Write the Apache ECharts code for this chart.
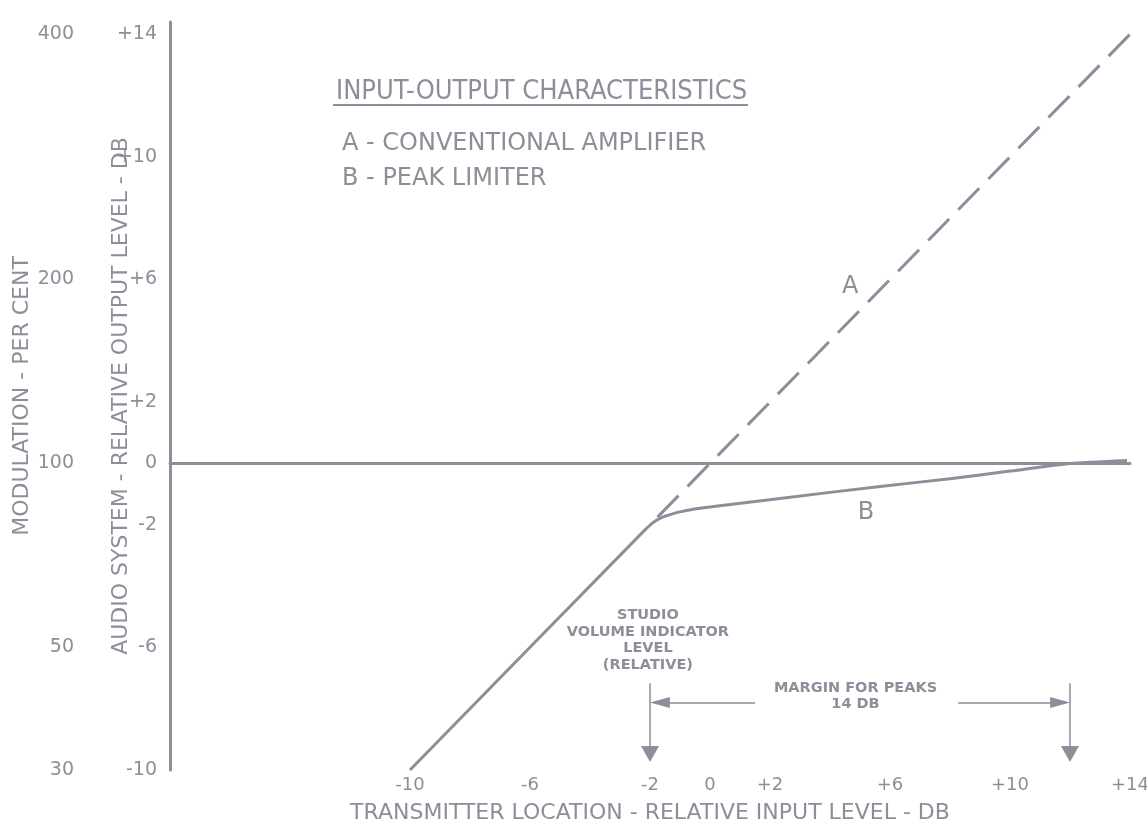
<!DOCTYPE html>
<html>
<head>
<meta charset="utf-8">
<script src="https://cdn.jsdelivr.net/npm/echarts@6/dist/echarts.min.js"></script>
<style>html,body{margin:0;padding:0;background:#fff;}#c{width:1147px;height:827px;}</style>
</head>
<body>
<div id="c"></div>
<script>
// ---- data ----
var xTickValues = [-10, -6, -2, 0, 2, 6, 10, 14];
var yTickValues = [-10, -6, -2, 0, 2, 6, 10, 14];
var modTickDb = [-10, -6, 0, 6, 14];
var modTickLabels = ['30', '50', '100', '200', '400'];
// A - conventional amplifier (dashed part beyond the knee)
var aX = [-1.75, 14];
var aY = [-1.75, 14];
// B - peak limiter (solid, shares the lower straight part)
var bX = [-10, -2.2, -1.9, -1.6, -1.3, -1.0, -0.6, 0, 0.67, 2.33, 5.67, 8, 10, 12, 13.9];
var bY = [-10, -2.2, -1.93, -1.76, -1.66, -1.58, -1.5, -1.42, -1.34, -1.14, -0.75, -0.5, -0.25, 0, 0.1];
// reference 0 dB line
var zeroX = [-18, 13];
var zeroY = [0, 0];
// annotation positions (data space)
var studioLevel = -2;
var peakLevel = 12;

var C = '#8c8e99';
var F = 'DejaVu Sans';

function pairs(xs, ys) { return xs.map(function (x, i) { return [x, ys[i]]; }); }
function fmtSigned(v) { return v > 0 ? '+' + v : (v < 0 ? '-' + (-v) : '0'); }

var chart = echarts.init(document.getElementById('c'));
chart.setOption({
  backgroundColor: '#fff',
  animation: false,
  title: [
    { text: 'INPUT-OUTPUT CHARACTERISTICS', left: 331, top: 73,
      textStyle: { color: C, fontFamily: 'DejaVu Sans Condensed', fontSize: 27, fontWeight: 'normal' } },
    { text: 'A - CONVENTIONAL AMPLIFIER\nB - PEAK LIMITER', left: 337, top: 121,
      textStyle: { color: C, fontFamily: F, fontSize: 24, fontWeight: 'normal', lineHeight: 35 } }
  ],
  graphic: [
    { type: 'line', shape: { x1: 333, y1: 105, x2: 748, y2: 105 }, style: { stroke: C, lineWidth: 2 } }
  ],
  grid: { left: 170, right: 17, top: 22, bottom: 57, containLabel: false, outerBoundsMode: 'none' },
  xAxis: {
    type: 'value', min: -18, max: 14, interval: 2,
    name: 'TRANSMITTER LOCATION - RELATIVE INPUT LEVEL - DB',
    nameLocation: 'middle', nameGap: 32, nameMoveOverlap: false,
    nameTextStyle: { color: C, fontFamily: F, fontSize: 22 },
    axisLine: { show: true, lineStyle: { color: C, width: 3 } },
    axisTick: { show: false }, splitLine: { show: false },
    axisLabel: { color: C, fontFamily: F, fontSize: 18, margin: 6,
      formatter: function (v) { return xTickValues.indexOf(v) >= 0 ? fmtSigned(v) : ''; } }
  },
  yAxis: [
    {
      type: 'value', min: -10, max: 14.4, interval: 2,
      name: 'AUDIO SYSTEM - RELATIVE OUTPUT LEVEL - DB',
      nameLocation: 'middle', nameGap: 38, nameRotate: 90, nameMoveOverlap: false,
      nameTextStyle: { color: C, fontFamily: F, fontSize: 22 },
      axisLine: { show: true, onZero: false, lineStyle: { color: C, width: 3 } },
      axisTick: { show: false }, splitLine: { show: false },
      axisLabel: { color: C, fontFamily: F, fontSize: 19, margin: 13,
        formatter: function (v) { return yTickValues.indexOf(v) >= 0 ? fmtSigned(v) : ''; } }
    },
    {
      type: 'value', min: -10, max: 14.4, interval: 2, position: 'left', offset: 83,
      name: 'MODULATION - PER CENT',
      nameLocation: 'middle', nameGap: 54, nameRotate: 90, nameMoveOverlap: false,
      nameTextStyle: { color: C, fontFamily: F, fontSize: 22 },
      axisLine: { show: false }, axisTick: { show: false }, splitLine: { show: false },
      axisLabel: { color: C, fontFamily: F, fontSize: 19, margin: 13,
        formatter: function (v) { var i = modTickDb.indexOf(v); return i >= 0 ? modTickLabels[i] : ''; } }
    }
  ],
  series: [
    {
      type: 'line', data: pairs(zeroX, zeroY), symbol: 'none', silent: true,
      lineStyle: { color: C, width: 2.5 }
    },
    {
      name: 'A', type: 'line', data: pairs(aX, aY), symbol: 'none',
      lineStyle: { color: C, width: 3, type: [30, 13] },
      markPoint: {
        symbol: 'circle', symbolSize: 0,
        label: { show: true, color: C, fontFamily: F, fontSize: 24, formatter: 'A' },
        data: [{ coord: [4.67, 5.75] }]
      }
    },
    {
      name: 'B', type: 'line', data: pairs(bX, bY), symbol: 'none', smooth: 0.2,
      lineStyle: { color: C, width: 3 },
      markPoint: {
        symbol: 'circle', symbolSize: 0,
        label: { show: true, color: C, fontFamily: F, fontSize: 24, formatter: 'B' },
        data: [{ coord: [5.2, -1.6] }]
      }
    },
    {
      type: 'line', data: [], symbol: 'none', silent: true,
      markPoint: {
        symbol: 'circle', symbolSize: 0,
        label: { show: true, color: C, fontFamily: F, fontSize: 14.5, fontWeight: 'bold', lineHeight: 16.5, align: 'center' },
        data: [
          { coord: [studioLevel - 0.07, -5.77], label: { formatter: 'STUDIO\nVOLUME INDICATOR\nLEVEL\n(RELATIVE)' } },
          { coord: [4.85, -7.6], label: { formatter: 'MARGIN FOR PEAKS\n14 DB' } }
        ]
      },
      markLine: {
        silent: true, symbol: ['none', 'triangle'], symbolSize: 18,
        lineStyle: { color: C, width: 1.5, type: 'solid' },
        label: { show: false },
        data: [
          [{ coord: [studioLevel, -7.17] }, { coord: [studioLevel, -9.48], symbolSize: [18, 16] }],
          [{ coord: [peakLevel, -7.17] }, { coord: [peakLevel, -9.48], symbolSize: [18, 16] }],
          [{ coord: [1.5, -7.8] }, { coord: [studioLevel + 0.33, -7.8], symbolSize: [11, 20] }],
          [{ coord: [8.27, -7.8] }, { coord: [peakLevel - 0.33, -7.8], symbolSize: [11, 20] }]
        ]
      }
    }
  ]
});
</script>
</body>
</html>
